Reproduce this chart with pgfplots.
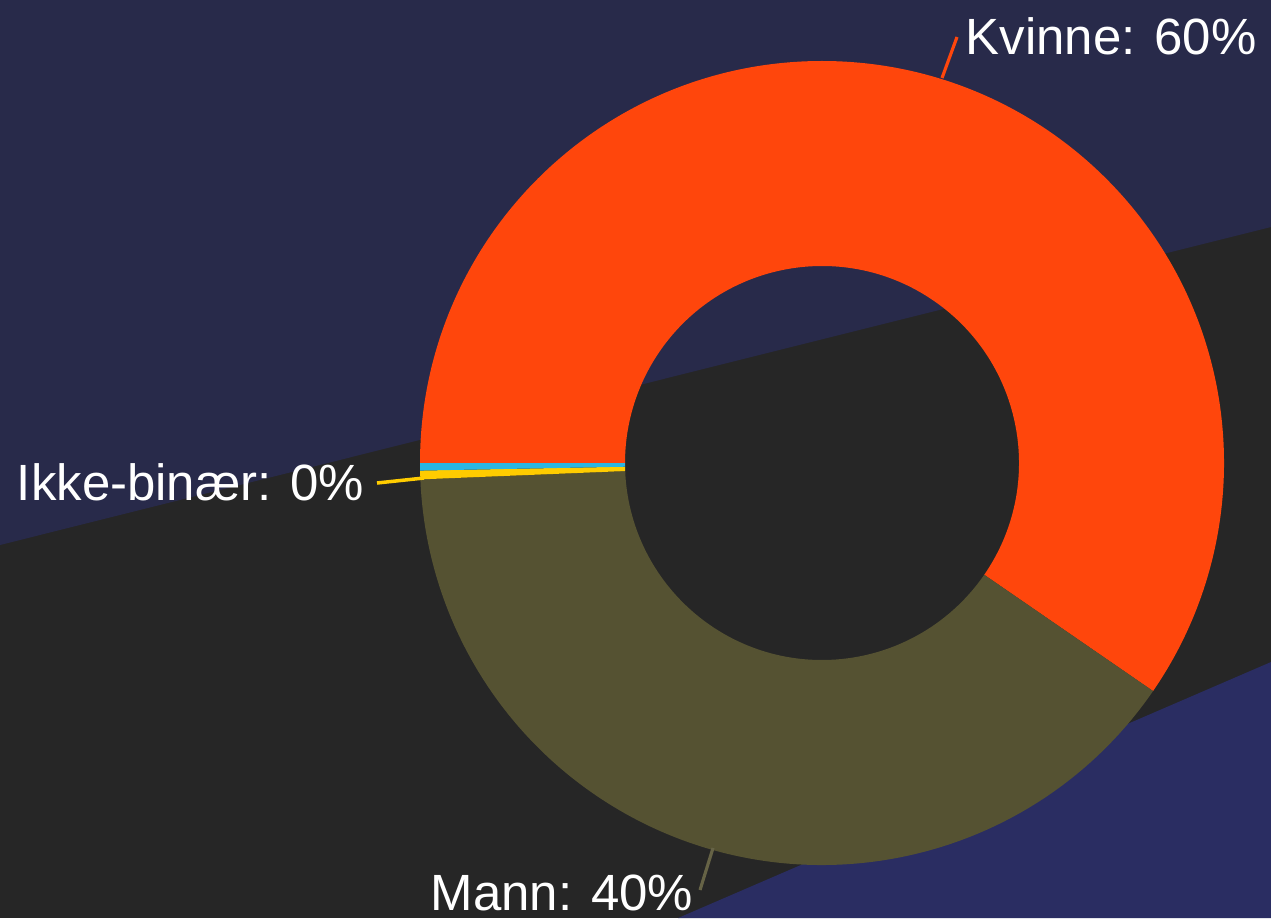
\documentclass[border=0pt]{standalone}
\usepackage{pgfplots}
\pgfplotsset{compat=1.18}
\usepackage{fontspec}
\setmainfont{Liberation Sans}

\definecolor{bgtop}{HTML}{282A4A}
\definecolor{bgmid}{HTML}{262626}
\definecolor{bgbot}{HTML}{2A2D62}
\definecolor{kvinne}{HTML}{FF460C}
\definecolor{mann}{HTML}{555232}
\definecolor{ikke}{HTML}{FFCC00}
\definecolor{annet}{HTML}{2BB7E2}

% shares in percent
\def\vK{59.6}
\def\vM{39.75}
\def\vI{0.35}
\def\vA{0.3}

% slices run clockwise from 9 o'clock
\pgfmathsetmacro\aA{180}
\pgfmathsetmacro\aB{\aA-3.6*\vK}
\pgfmathsetmacro\aC{\aB-3.6*\vM}
\pgfmathsetmacro\aD{\aC-3.6*\vI}
\pgfmathsetmacro\aE{\aD-3.6*\vA}

\def\rout{4.02cm}
\def\rin{1.97cm}
\def\rw{-2.05cm}

\newcommand{\slice}[3]{%
  \fill[#3] (axis cs:822,463) ++(#1:\rout) arc[start angle=#1, end angle=#2, radius=\rout]
    -- ++(#2:\rw) arc[start angle=#2, end angle=#1, radius=\rin] -- cycle;}

\begin{document}
\begin{tikzpicture}
\begin{axis}[
    scale only axis,
    width=12.71cm, height=9.18cm,
    xmin=0, xmax=1271, ymin=0, ymax=918,
    y dir=reverse,
    hide axis,
]
% background bands
\fill[bgmid] (axis cs:0,0) rectangle (axis cs:1271,918);
\fill[bgtop] (axis cs:0,0) -- (axis cs:1271,0) -- (axis cs:1271,227) -- (axis cs:0,545) -- cycle;
\fill[bgbot] (axis cs:678,918) -- (axis cs:1271,662) -- (axis cs:1271,918) -- cycle;

% donut
\slice{\aA}{\aB}{kvinne}
\slice{\aB}{\aC}{mann}
\slice{\aC}{\aD}{ikke}
\slice{\aD}{\aE}{annet}

% leader lines
\draw[kvinne, line width=0.9pt] (axis cs:942,78) -- (axis cs:957,37);
\draw[mann!90!white, line width=0.9pt] (axis cs:713,848) -- (axis cs:700,890);
\draw[ikke, line width=1pt] (axis cs:377,483) -- (axis cs:424,478);

% labels
\node[white, anchor=base west, inner sep=0pt, font=\fontsize{14.5}{17}\selectfont] at (axis cs:965,55) {Kvinne: 60\%};
\node[white, anchor=base west, inner sep=0pt, font=\fontsize{14.5}{17}\selectfont] at (axis cs:430,910) {Mann: 40\%};
\node[white, anchor=base east, inner sep=0pt, font=\fontsize{14.5}{17}\selectfont] at (axis cs:365,500) {Ikke-binær: 0\%};
\end{axis}
\end{tikzpicture}
\end{document}
